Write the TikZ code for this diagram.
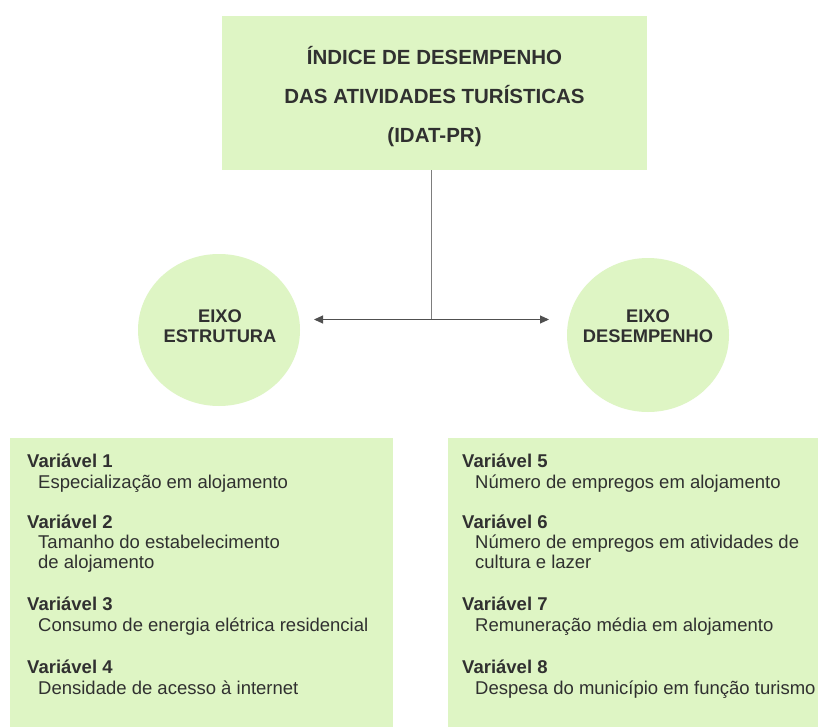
\documentclass[tikz,border=0pt]{standalone}
\usepackage{fontspec}
\setmainfont{Liberation Sans}
\usetikzlibrary{shapes.geometric,arrows.meta}
\definecolor{boxgreen}{RGB}{222,245,196}
\definecolor{txt}{RGB}{48,48,48}
\definecolor{vline}{RGB}{125,125,125}
\definecolor{hline}{RGB}{80,80,80}
\begin{document}
\begin{tikzpicture}[x=1pt,y=-1pt,
  panel/.style={fill=boxgreen, draw=none, inner sep=0pt, anchor=north west},
  axis/.style={ellipse, fill=boxgreen, draw=none, inner sep=0pt},
  ttl/.style={anchor=base, inner sep=0pt, text=txt, font=\fontsize{20.5}{24}\selectfont\bfseries},
  axtxt/.style={anchor=base, inner sep=0pt, text=txt, font=\fontsize{18.3}{22}\selectfont\bfseries},
  varname/.style={anchor=base west, inner sep=0pt, text=txt, font=\fontsize{18.5}{22}\selectfont\bfseries},
  vardesc/.style={anchor=base west, inner sep=0pt, text=txt, font=\fontsize{18.5}{22}\selectfont},
  tip/.style={-{Triangle[length=9pt,width=8pt]}}
]
\useasboundingbox (0,0) rectangle (818,727);
\fill[white] (0,0) rectangle (818,727);

% top box
\node[panel, minimum width=425pt, minimum height=154pt] (top) at (222,16) {};
\node[ttl] (t1) at (434.5,65) {ÍNDICE DE DESEMPENHO};
\node[ttl] (t2) at (434.5,104) {DAS ATIVIDADES TURÍSTICAS};
\node[ttl] (t3) at (434.5,142.5) {(IDAT-PR)};

% axes
\node[axis, minimum width=162pt, minimum height=152pt] (le) at (219,330) {};
\node[axis, minimum width=162pt, minimum height=154pt] (re) at (648,335) {};
\node[axtxt] (le1) at (220,322.5) {EIXO};
\node[axtxt] (le2) at (220,342.5) {ESTRUTURA};
\node[axtxt] (re1) at (648,322.5) {EIXO};
\node[axtxt] (re2) at (648,342.5) {DESEMPENHO};

% connectors
\coordinate (j) at (431,319.5);
\coordinate (la) at (314,319.5);
\coordinate (ra) at (549,319.5);
\draw[vline, line width=1pt] (top.south -| j) -- (j);
\draw[hline, line width=1pt, tip] (j) -- (la);
\draw[hline, line width=1pt, tip] (j) -- (ra);

% bottom panels
\node[panel, minimum width=383pt, minimum height=289pt] (lbox) at (10,438) {};
\node[panel, minimum width=370pt, minimum height=289pt] (rbox) at (448,438) {};

% left texts
\node[varname] (v1) at (27,467.5) {Variável 1};
\node[vardesc] (d1) at (38,488) {Especialização em alojamento};
\node[varname] (v2) at (27,528) {Variável 2};
\node[vardesc] (d2a) at (38,548.5) {Tamanho do estabelecimento};
\node[vardesc] (d2b) at (38,568.5) {de alojamento};
\node[varname] (v3) at (27,610.5) {Variável 3};
\node[vardesc] (d3) at (38,631.5) {Consumo de energia elétrica residencial};
\node[varname] (v4) at (27,673.5) {Variável 4};
\node[vardesc] (d4) at (38,694.5) {Densidade de acesso à internet};

% right texts
\node[varname] (v5) at (462,467.5) {Variável 5};
\node[vardesc] (d5) at (475,488) {Número de empregos em alojamento};
\node[varname] (v6) at (462,528) {Variável 6};
\node[vardesc] (d6a) at (475,548.5) {Número de empregos em atividades de};
\node[vardesc] (d6b) at (475,568.5) {cultura e lazer};
\node[varname] (v7) at (462,610.5) {Variável 7};
\node[vardesc] (d7) at (475,631.5) {Remuneração média em alojamento};
\node[varname] (v8) at (462,673.5) {Variável 8};
\node[vardesc] (d8) at (475,694.5) {Despesa do município em função turismo};
\end{tikzpicture}
\end{document}
